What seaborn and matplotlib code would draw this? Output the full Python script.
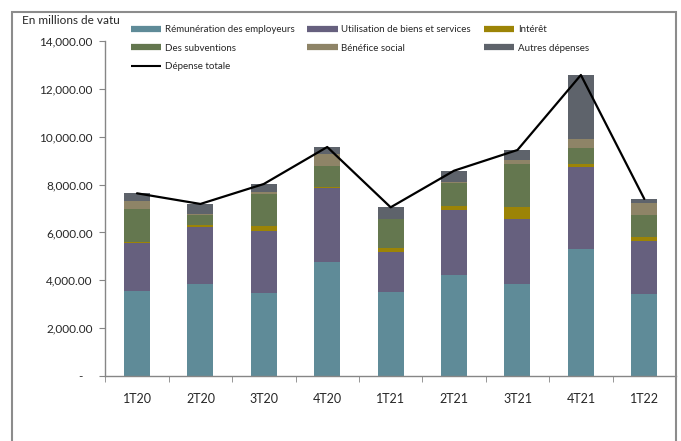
import numpy as np
import matplotlib
matplotlib.use("Agg")
import matplotlib.pyplot as plt
import seaborn as sns
from matplotlib.lines import Line2D
from matplotlib.patches import Rectangle
from matplotlib.ticker import FuncFormatter, FixedLocator

quarters = ["1T20", "2T20", "3T20", "4T20", "1T21", "2T21", "3T21", "4T21", "1T22"]

# millions de vatu
remuneration = [3550, 3845, 3480, 4765, 3525, 4235, 3845, 5305, 3425]
biens_services = [2010, 2380, 2580, 3105, 1670, 2700, 2700, 3440, 2215]
interet = [55, 70, 220, 40, 165, 180, 515, 125, 170]
subventions = [1355, 430, 1340, 880, 1200, 950, 1810, 670, 905]
benefice_social = [345, 45, 70, 475, 20, 55, 155, 350, 530]
autres = [320, 420, 335, 305, 470, 460, 420, 2690, 155]
depense_totale = [7635, 7190, 8025, 9570, 7050, 8580, 9445, 12580, 7400]

series = [
    ("Rémunération des employeurs", remuneration, "#5F8B98"),
    ("Utilisation de biens et services", biens_services, "#66607E"),
    ("Intérêt", interet, "#9C8406"),
    ("Des subventions", subventions, "#64774F"),
    ("Bénéfice social", benefice_social, "#8E8467"),
    ("Autres dépenses", autres, "#5E636B"),
]

sns.set_style("white")
plt.rcParams["font.family"] = ["Lato", "DejaVu Sans"]

fig = plt.figure(figsize=(6.81, 4.41), dpi=100)
ax = fig.add_axes([105.3 / 681, 1 - 376 / 441, (676 - 105.3) / 681, (376 - 41) / 441])

# stacked bars: draw cumulative heights from the top layer down
cum = np.cumsum(np.array([s[1] for s in series]), axis=0)
x = np.arange(len(quarters))
for i in range(len(series) - 1, -1, -1):
    sns.barplot(x=x, y=cum[i], color=series[i][2], width=0.41,
                saturation=1, ax=ax, native_scale=True, linewidth=0)

sns.lineplot(x=x, y=depense_totale, color="black", linewidth=1.6, ax=ax, sort=False)

ax.set_xlim(-0.5, len(quarters) - 0.5)
ax.set_ylim(0, 14000)
ax.set_xticks(x)
ax.set_xticklabels(quarters, fontsize=9)
ax.xaxis.set_minor_locator(FixedLocator(np.arange(-0.5, len(quarters), 1)))
ax.tick_params(axis="x", which="major", length=0, pad=12)
ax.tick_params(axis="x", which="minor", length=4, color="#868686", direction="out")
ax.set_yticks(np.arange(0, 14001, 2000))
ax.yaxis.set_major_formatter(FuncFormatter(lambda v, p: "-   " if v == 0 else f"{v:,.2f}"))
ax.tick_params(axis="y", length=4, color="#868686", direction="out", labelsize=8.5, pad=5)
ax.tick_params(axis="both", which="both", bottom=True, left=True)
ax.set_xlabel("")
ax.set_ylabel("")
for side in ["top", "right"]:
    ax.spines[side].set_visible(False)
for side in ["left", "bottom"]:
    ax.spines[side].set_color("#868686")
    ax.spines[side].set_linewidth(1.0)

fig.text(22 / 681, 1 - 20 / 441, "En millions de vatu", fontsize=8.5, va="center", ha="left")

# outer chart frame
fig.patches.append(Rectangle((12 / 681, -0.05), (676 - 12) / 681, 1.05 - 12 / 441,
                             transform=fig.transFigure, fill=False,
                             edgecolor="#8C8C8C", linewidth=1.5))

h = {name: Line2D([], [], color=c, linewidth=4.5, solid_capstyle="butt")
     for name, _, c in series}
h["Dépense totale"] = Line2D([], [], color="black", linewidth=1.5, solid_capstyle="butt")
order = ["Rémunération des employeurs", "Des subventions", "Dépense totale",
         "Utilisation de biens et services", "Bénéfice social",
         "Intérêt", "Autres dépenses"]
fig.legend([h[k] for k in order], order, ncol=3, loc="upper left",
           bbox_to_anchor=(131 / 681, 1 - 25 / 441), frameon=False, fontsize=7,
           handlelength=3.1, handletextpad=0.4, columnspacing=1.3,
           labelspacing=1.0, borderaxespad=0, borderpad=0)

fig.savefig("out.png", dpi=100)
